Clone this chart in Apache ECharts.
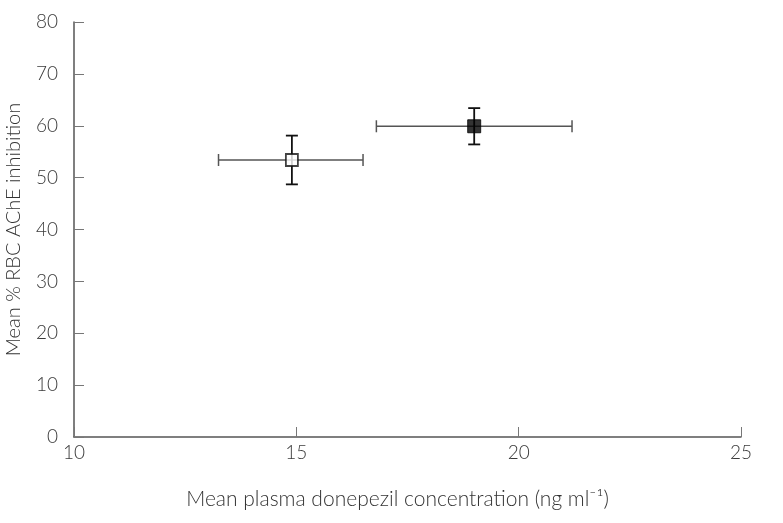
<!DOCTYPE html>
<html><head><meta charset="utf-8">
<script src="https://cdn.jsdelivr.net/npm/echarts@6/dist/echarts.min.js"></script>
<style>html,body{margin:0;padding:0;background:#fff}#c{width:783px;height:523px}</style>
</head><body><div id="c"></div>
<script>
// Data
const groups = ['open', 'filled'];
const meanConc = [14.9, 19.0];
const concLow = [13.25, 16.8];
const concHigh = [16.5, 21.2];
const meanInhib = [53.4, 59.9];
const inhibLow = [48.7, 56.4];
const inhibHigh = [58.1, 63.4];
const xTicks = [10, 15, 20, 25];
const yTicks = [0, 10, 20, 30, 40, 50, 60, 70, 80];

const FONT = 'Lato, "Open Sans", sans-serif';
const chart = echarts.init(document.getElementById('c'));

const errData = groups.map((g, i) => [meanConc[i], meanInhib[i], concLow[i], concHigh[i], inhibLow[i], inhibHigh[i]]);

function renderErr(params, api) {
  const x = api.value(0), y = api.value(1);
  const c = api.coord([x, y]);
  const xl = api.coord([api.value(2), y]);
  const xh = api.coord([api.value(3), y]);
  const yl = api.coord([x, api.value(4)]);
  const yh = api.coord([x, api.value(5)]);
  const cap = 6;
  const hs = {stroke: '#555', lineWidth: 1.5};
  const vs = {stroke: '#111', lineWidth: 1.8};
  return {
    type: 'group',
    children: [
      {type: 'line', shape: {x1: xl[0], y1: c[1], x2: xh[0], y2: c[1]}, style: hs},
      {type: 'line', shape: {x1: xl[0], y1: c[1] - cap, x2: xl[0], y2: c[1] + cap}, style: hs},
      {type: 'line', shape: {x1: xh[0], y1: c[1] - cap, x2: xh[0], y2: c[1] + cap}, style: hs},
      {type: 'line', shape: {x1: c[0], y1: yl[1], x2: c[0], y2: yh[1]}, style: vs},
      {type: 'line', shape: {x1: c[0] - cap, y1: yl[1], x2: c[0] + cap, y2: yl[1]}, style: vs},
      {type: 'line', shape: {x1: c[0] - cap, y1: yh[1], x2: c[0] + cap, y2: yh[1]}, style: vs}
    ]
  };
}

chart.setOption({
  animation: false,
  backgroundColor: '#fff',
  grid: {left: 74, right: 42, top: 22, bottom: 86, containLabel: false, outerBoundsMode: 'none'},
  xAxis: {
    type: 'value', min: xTicks[0], max: xTicks[xTicks.length - 1], interval: 5,
    name: 'Mean plasma donepezil concentration (ng ml\u207B\u00B9)',
    nameLocation: 'middle', nameGap: 52,
    nameTextStyle: {fontFamily: FONT, fontSize: 21, color: '#333', fontWeight: 300, padding: [0, 20, 0, 0]},
    axisLine: {lineStyle: {color: '#555', width: 1.5}},
    axisTick: {inside: true, length: 10, lineStyle: {color: '#777', width: 1}},
    axisLabel: {fontFamily: FONT, fontSize: 19, color: '#3a3a3a', fontWeight: 300, margin: 6},
    splitLine: {show: false}
  },
  yAxis: {
    type: 'value', min: yTicks[0], max: yTicks[yTicks.length - 1], interval: 10,
    name: 'Mean % RBC AChE inhibition',
    nameLocation: 'middle', nameGap: 50,
    nameTextStyle: {fontFamily: FONT, fontSize: 20, color: '#333', fontWeight: 300},
    axisLine: {show: true, lineStyle: {color: '#555', width: 1.5}},
    axisTick: {show: true, inside: true, length: 10, lineStyle: {color: '#777', width: 1}},
    axisLabel: {fontFamily: FONT, fontSize: 19, color: '#3a3a3a', fontWeight: 300, margin: 16},
    splitLine: {show: false}
  },
  series: [
    {type: 'custom', renderItem: renderErr, data: errData, z: 2,
     encode: {x: [0, 2, 3], y: [1, 4, 5]}},
    {type: 'scatter', symbol: 'rect', symbolSize: 12, z: 3,
     data: [[meanConc[0], meanInhib[0]]],
     itemStyle: {color: '#fff', borderColor: '#111', borderWidth: 1.8}},
    {type: 'scatter', symbol: 'rect', symbolSize: 13, z: 3,
     data: [[meanConc[1], meanInhib[1]]],
     itemStyle: {color: '#000', borderColor: '#000', borderWidth: 1}}
  ]
});
</script></body></html>
